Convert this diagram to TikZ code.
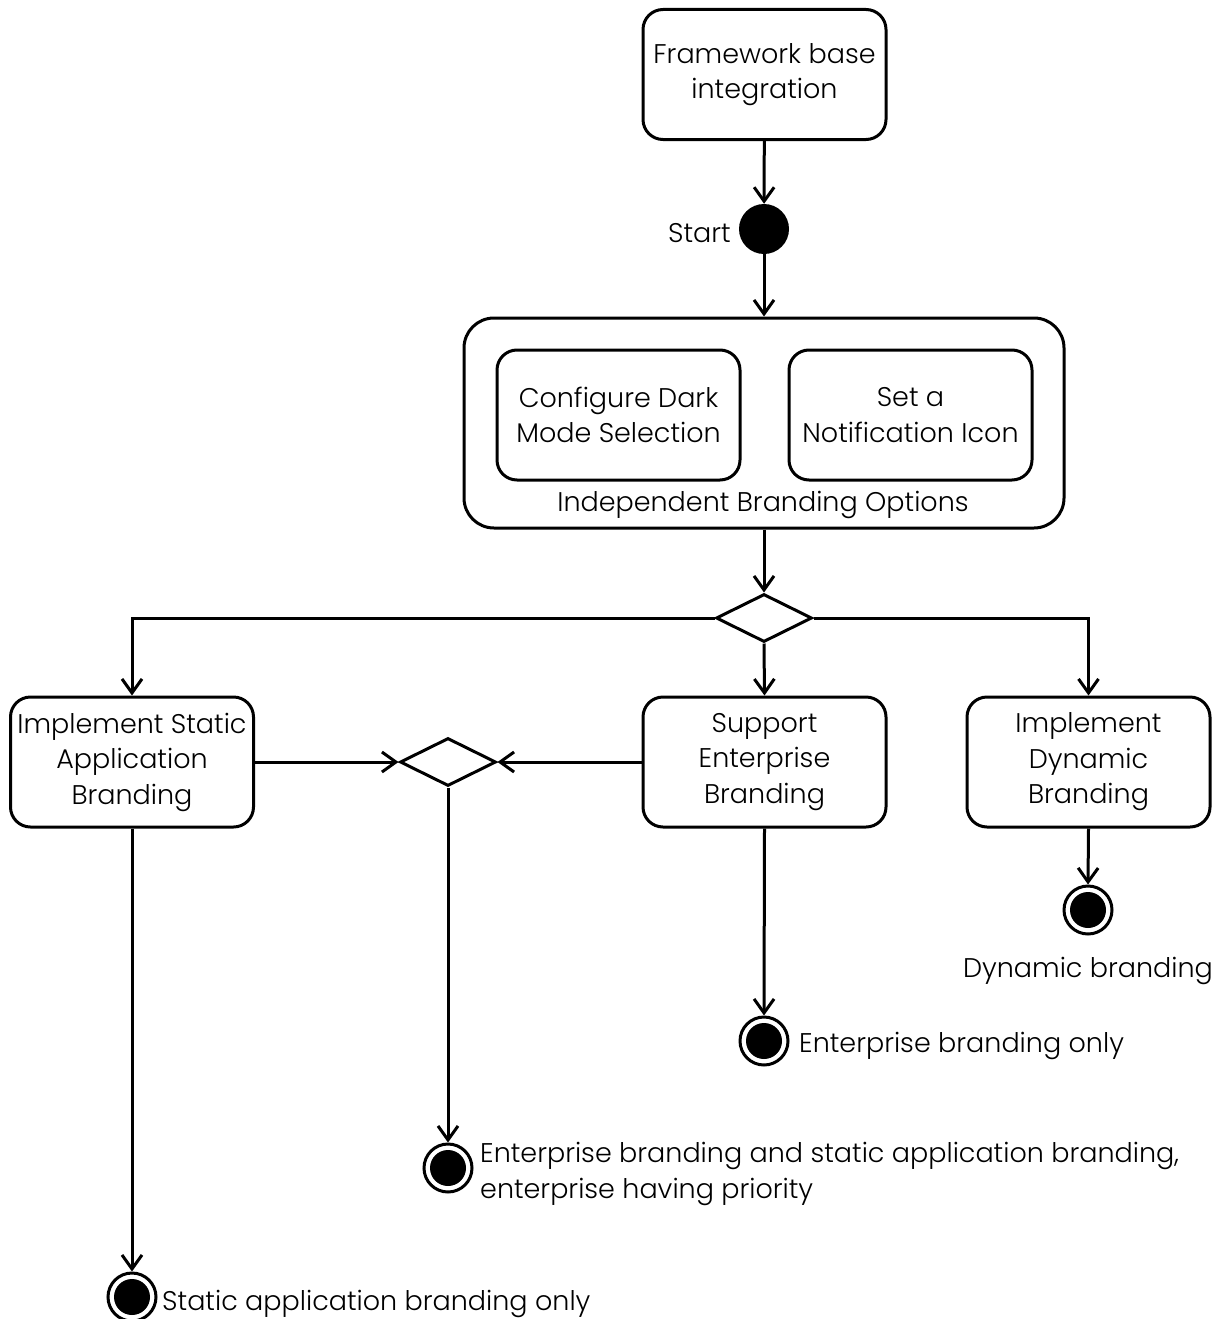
\documentclass[tikz,border=0pt]{standalone}
\usepackage{fontspec}
\setmainfont{Poppins Light}
\usetikzlibrary{arrows.meta,shapes.geometric}
\begin{document}
\begin{tikzpicture}[x=1pt,y=-1pt,
  every node/.style={font=\fontsize{27}{35.5}\selectfont},
  actbox/.style={draw, rounded corners=20pt, line width=3pt, minimum width=243pt, minimum height=130pt, align=center, inner sep=0pt},
  decis/.style={draw, diamond, line width=3pt, minimum width=96pt, minimum height=48pt, inner sep=0pt, aspect=2},
  startnode/.style={circle, fill=black, minimum size=50pt, inner sep=0pt},
  finalnode/.style={circle, draw, line width=3pt, minimum size=48pt, inner sep=0pt,
    path picture={\fill[black] (path picture bounding box.center) circle (18pt);}},
  flow/.style={line width=3pt, -{Straight Barb[length=14pt,width=20pt,line width=3pt]}},
  lbl/.style={inner sep=0pt, align=left}
]
\useasboundingbox (0,0) rectangle (1217,1319);

\node[actbox] (fw) at (764.5,74.5) {Framework base\\integration};
\node[startnode] (start) at (764,229) {};
\node[lbl, anchor=east] (startlbl) at (731,233) {Start};

\node[draw, rounded corners=30pt, line width=3pt, minimum width=600pt, minimum height=210pt, inner sep=0pt] (outer) at (764,423) {};
\node[actbox] (dark) at (618.5,415) {Configure Dark\\Mode Selection};
\node[actbox] (notif) at (910.5,415) {Set a\\Notification Icon};
\node[lbl] (outerlbl) at (763,505) {Independent Branding Options};

\node[decis] (d1) at (764,618) {};
\node[actbox] (static) at (132,762) {Implement Static\\Application\\Branding};
\node[actbox] (support) at (764.5,762) {Support\\Enterprise\\Branding};
\node[actbox] (dynamic) at (1088.5,762) {Implement\\Dynamic\\Branding};
\node[decis] (d2) at (448,762) {};

\node[finalnode] (fdyn) at (1088,910) {};
\node[lbl] (fdynlbl) at (1088,971) {Dynamic branding};
\node[finalnode] (fent) at (764,1041) {};
\node[lbl, anchor=west] (fentlbl) at (799,1046) {Enterprise branding only};
\node[finalnode] (fboth) at (448,1168) {};
\node[lbl, anchor=west] (fbothlbl) at (480,1174) {Enterprise branding and static application branding,\\enterprise having priority};
\node[finalnode] (fstat) at (132,1297) {};
\node[lbl, anchor=west] (fstatlbl) at (162,1304) {Static application branding only};

\draw[flow] (fw) -- (start);
\draw[flow] (start) -- (outer.north);
\draw[flow] (outer.south) -- (d1.north);
\draw[flow] (d1.west) -| (static.north);
\draw[flow] (d1.east) -| (dynamic.north);
\draw[flow] (d1.south) -- (support.north);
\draw[flow] (static.east) -- (d2.west);
\draw[flow] (support.west) -- (d2.east);
\draw[flow] (d2.south) -- (fboth.north);
\draw[flow] (static.south) -- (fstat.north);
\draw[flow] (support.south) -- (fent.north);
\draw[flow] (dynamic.south) -- (fdyn.north);
\end{tikzpicture}
\end{document}
